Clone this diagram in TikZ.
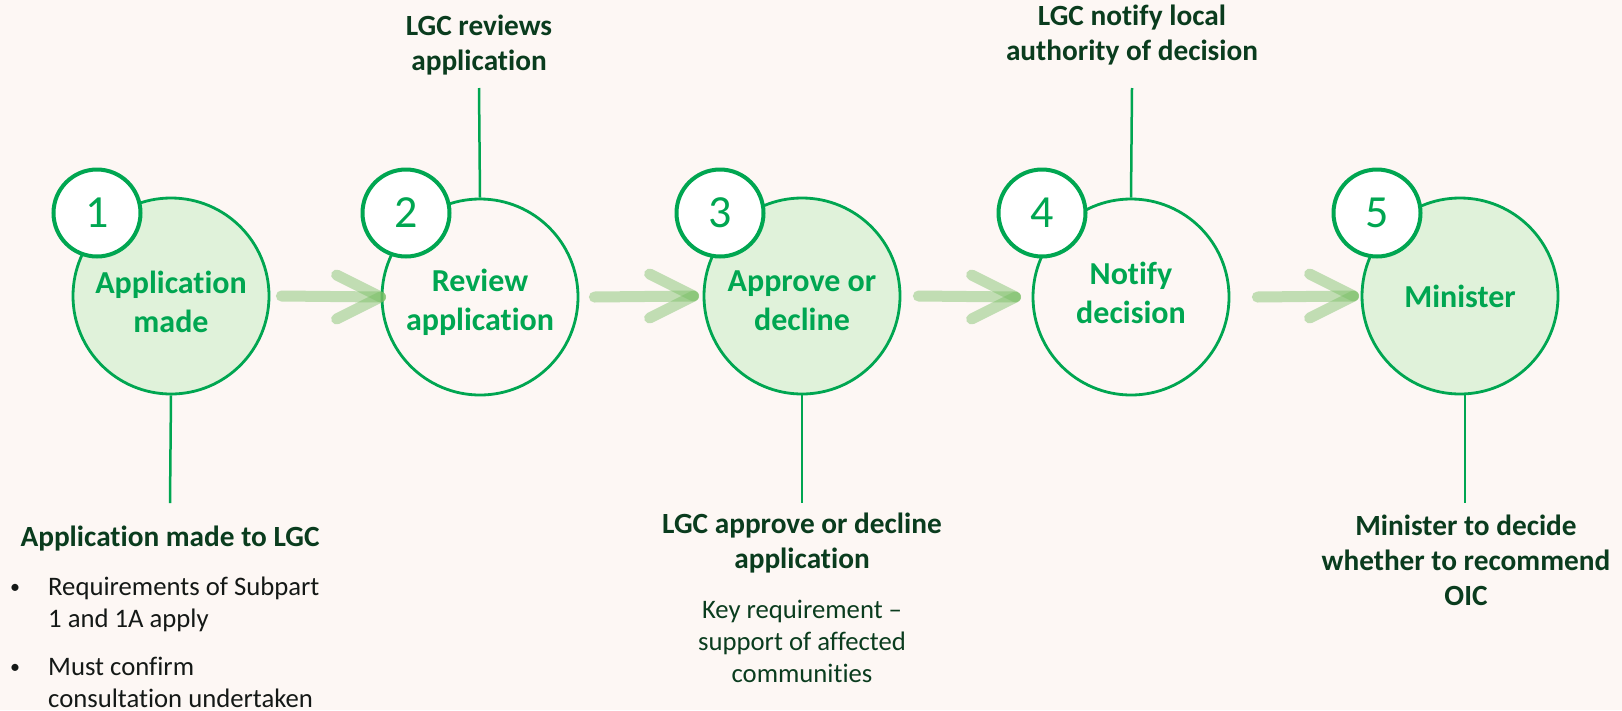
\documentclass[tikz,border=0pt]{standalone}
\usepackage{fontspec}
\setmainfont{Carlito}[Ligatures=NoCommon]
\usetikzlibrary{calc}
\definecolor{bgc}{RGB}{253,247,244}
\definecolor{gc}{RGB}{0,166,81}
\definecolor{lfill}{RGB}{224,242,218}
\definecolor{dk}{RGB}{10,60,30}
\definecolor{bodyc}{RGB}{20,24,22}
\definecolor{arrowc}{RGB}{120,190,100}
\tikzset{
  stage/.style={circle, draw=gc, line width=2.8pt, minimum size=196pt, inner sep=0pt},
  filled/.style={fill=lfill},
  open/.style={fill=bgc},
  stagetext/.style={align=center, text=gc, inner sep=0pt, anchor=base,
    font=\bfseries\fontsize{32}{39}\selectfont},
  numc/.style={circle, draw=gc, line width=4pt, fill=white, minimum size=87pt, inner sep=0pt,
    text=gc, font=\fontsize{46}{46}\selectfont},
  stem/.style={draw=gc, line width=2.5pt},
  flow/.style={draw=arrowc, line width=11pt, line cap=round, draw opacity=0.45},
  lab/.style={align=center, text=dk, inner sep=0pt, anchor=base,
    font=\bfseries\fontsize{29.3}{35}\selectfont},
  note/.style={align=center, text=dk, inner sep=0pt, anchor=base,
    font=\fontsize{26.7}{32}\selectfont},
  item/.style={align=left, text=bodyc, inner sep=0pt, font=\fontsize{26.7}{32}\selectfont},
  dot/.style={text=bodyc, inner sep=0pt, anchor=base, font=\fontsize{20}{20}\selectfont},
}
% chevron connector: shaft from #1 to #2 plus two arms meeting at #2
\newcommand\chevron[2]{%
  \draw[flow] (#1) -- (#2);
  \draw[flow] ($(#2)+(-44,-22)$) -- (#2);
  \draw[flow] ($(#2)+(-44,22)$) -- (#2);
}
\begin{document}
\begin{tikzpicture}[x=1pt,y=-1pt]
\fill[bgc] (0,0) rectangle (1622,710);
\useasboundingbox (0,0) rectangle (1622,710);

% stages
\node[stage, filled] (c1) at (171,296) {};
\node[stage, open]   (c2) at (480,297) {};
\node[stage, filled] (c3) at (802,296) {};
\node[stage, open]   (c4) at (1131,297) {};
\node[stage, filled] (c5) at (1460,296) {};

% stage titles (anchored on the last baseline)
\node[stagetext] (t1) at (171,332) {Application\\made};
\node[stagetext] (t2) at (480,330) {Review\\application};
\node[stagetext] (t3) at (802,330) {Approve or\\decline};
\node[stagetext] (t4) at (1131,323) {Notify\\decision};
\node[stagetext] (t5) at (1460,307) {Minister};

% step numbers
\node[numc] (n1) at (97,213) {1};
\node[numc] (n2) at (406,213) {2};
\node[numc] (n3) at (720,213) {3};
\node[numc] (n4) at (1042,213) {4};
\node[numc] (n5) at (1377,213) {5};

% flow arrows between stages
\coordinate (a1s) at ([xshift=11pt]c1.east);
\coordinate (a1e) at ([xshift=0pt]c2.west);
\coordinate (a2s) at ([xshift=15pt]c2.east);
\coordinate (a2e) at ([xshift=-9pt]c3.west);
\coordinate (a3s) at ([xshift=17pt]c3.east);
\coordinate (a3e) at ([xshift=-16pt]c4.west);
\coordinate (a4s) at ([xshift=27pt]c4.east);
\coordinate (a4e) at ([xshift=-7pt]c5.west);
\chevron{a1s}{a1e}
\chevron{a2s}{a2e}
\chevron{a3s}{a3e}
\chevron{a4s}{a4e}

% labels above
\node[lab] (l2) at (479,70) {LGC reviews\\application};
\node[lab] (l4) at (1132,60) {LGC notify local\\authority of decision};
\coordinate (s2) at (479,88);
\coordinate (s4) at (1132,88);
\draw[stem] (s2) -- (c2.north);
\draw[stem] (s4) -- (c4.north);

% labels below
\coordinate (s1) at (170,503);
\coordinate (s3) at (802,503);
\coordinate (s5) at (1465,503);
\draw[stem] (c1.south) -- (s1);
\draw[stem] (c3.south) -- (s3);
\draw[stem] ([xshift=5pt]c5.south) -- (s5);

\node[lab] (l1) at (170,546) {Application made to LGC};
\node[dot] (b1) at (15,593) {•};
\node[item, anchor=base west] (i1) at (48,627) {Requirements of Subpart\\1 and 1A apply};
\node[dot] (b2) at (15,673) {•};
\node[item, anchor=base west] (i2) at (48,707) {Must confirm\\consultation undertaken};

\node[lab] (l3) at (802,568) {LGC approve or decline\\application};
\node[note] (k3) at (802,682) {Key requirement –\\support of affected\\communities};

\node[lab] (l5) at (1466,605) {Minister to decide\\whether to recommend\\OIC};
\end{tikzpicture}
\end{document}
